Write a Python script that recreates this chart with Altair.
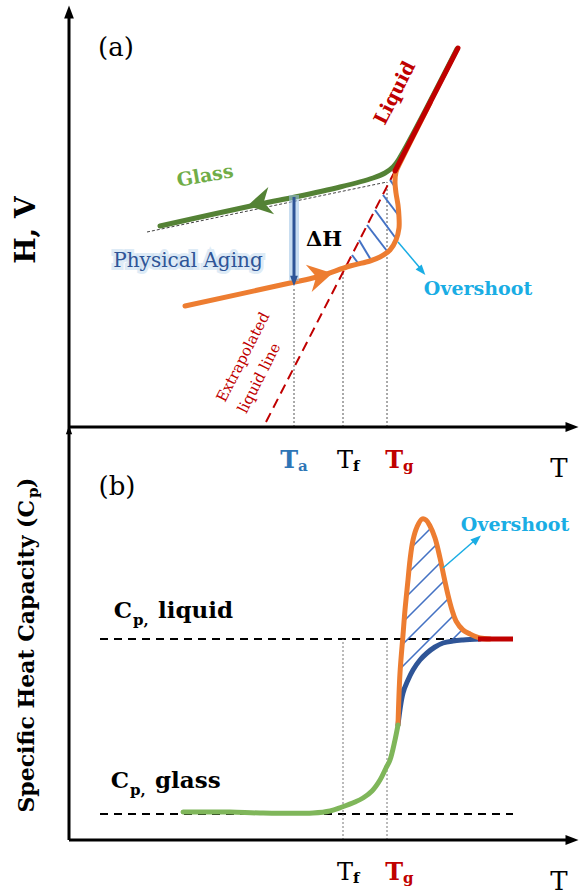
import altair as alt
import pandas as pd

SERIF = "DejaVu Serif"

# shared temperature axis and the two property axes
T_DOMAIN = [-69, 511]
H_DOMAIN = [0, 427]
CP_DOMAIN = [-55, 413]

GLASS_DARK = "#548235"
GLASS_LIGHT = "#70AD47"
ORANGE = "#ED7D31"
RED = "#C00000"
NAVY = "#2F5597"
HATCH = "#4472C4"
CYAN = "#1AADE4"
TA_BLUE = "#2E75B6"

# characteristic temperatures
T_a, T_f, T_g = 225, 274, 318

# ---------------- panel (a): H, V against T ----------------
# cooling: glass branch bending into the liquid line
glass_T = [91, 191, 226, 271, 304, 316, 324, 330, 388]
glass_H = [201, 223, 230, 240, 249, 254, 260, 268, 378]

# reheating of the aged glass, with the overshoot before rejoining the liquid
heat_T = [116, 221, 248, 281, 301, 311, 321, 327, 330, 330, 329, 327, 326, 327, 331, 361]
heat_H = [121, 144, 150, 161, 166, 170, 177, 187, 199, 210, 222, 234, 245, 255, 264, 324]

# equilibrium liquid and its extrapolation below Tg
liquid_T = [326, 389]
liquid_H = [256, 379]
extrap_T = [197, 326]
extrap_H = [5, 256]

# glass line extended up to Tg
glass_ext_T = [78, 318]
glass_ext_H = [195, 245]

# aged state and the enthalpy lost during aging
H_aged_top, H_aged_bottom = 230, 150

# top ends of the temperature guides
guide_H = {T_a: 140, T_f: 159, T_g: 245}

# hatching between the extrapolated liquid line and the reheating curve
hatchA_T1 = [283, 290, 298, 306, 314, 321]
hatchA_H1 = [172, 187, 202, 217, 232, 247]
hatchA_T2 = [289, 302, 318, 328, 330, 326]
hatchA_H2 = [164, 167, 176, 187, 211, 240]

# ---------------- panel (b): Cp against T ----------------
Cp_liquid, Cp_glass = 201, 26

cp_glass_T = [114, 161, 191, 244, 261, 273, 286, 294, 303, 311, 317, 321, 326, 329]
cp_glass_C = [28, 28, 27, 27, 29, 33, 38, 42, 49, 60, 72, 80, 100, 115]

cp_heat_T = [329, 331, 334, 336, 339, 341, 344, 348, 353, 357, 361, 366, 371, 375,
             379, 383, 387, 394, 401, 411, 421]
cp_heat_C = [115, 167, 205, 230, 260, 280, 300, 313, 321, 320, 314, 302, 282, 263,
             245, 230, 219, 210, 206, 202, 201]

cp_cool_T = [329, 334, 339, 344, 351, 358, 366, 374, 384, 394, 411]
cp_cool_C = [115, 147, 160, 170, 180, 187, 193, 197, 199, 200, 201]

cp_liq_T = [409, 444]

hatchB_T1 = [343, 340, 338, 335, 333, 331, 329, 381]
hatchB_C1 = [293, 268, 244, 219, 195, 171, 147, 198]
hatchB_T2 = [362, 368, 372, 376, 380, 385, 338, 393]
hatchB_C2 = [312, 296, 278, 260, 242, 225, 156, 210]

AXIS_END = 497
ARROW_TIP = "M1,0L-1,-0.75L-1,0.75Z"
BARBED = "M1,0L-0.9,-1.1L-0.3,0L-0.9,1.1Z"


def X():
    return alt.X("T:Q", scale=alt.Scale(domain=T_DOMAIN, nice=False, zero=False), axis=None)


def Y(dom):
    return alt.Y("Y:Q", scale=alt.Scale(domain=dom, nice=False, zero=False), axis=None)


def curve(T, Yv, dom, color, width, interp="catmull-rom", **kw):
    df = pd.DataFrame({"T": T, "Y": Yv, "i": list(range(len(T)))})
    return alt.Chart(df).mark_line(
        color=color, strokeWidth=width, interpolate=interp,
        strokeCap="round", strokeJoin="round", **kw
    ).encode(x=X(), y=Y(dom), order="i:Q")


def segs(T1, Y1, T2, Y2, dom, **kw):
    df = pd.DataFrame({"T": T1, "Y": Y1, "T2": T2, "Y2": Y2})
    return alt.Chart(df).mark_rule(**kw).encode(
        x=X(), y=Y(dom), x2=alt.X2("T2:Q"), y2=alt.Y2("Y2:Q"))


def head(T, Yv, dom, angle, size, shape, color):
    df = pd.DataFrame({"T": [T], "Y": [Yv]})
    return alt.Chart(df).mark_point(
        filled=True, opacity=1, strokeWidth=0, shape=shape, size=size,
        angle=angle, color=color
    ).encode(x=X(), y=Y(dom))


def label(T, Yv, s, dom, **kw):
    df = pd.DataFrame({"T": [T], "Y": [Yv], "s": [s]})
    opts = dict(font=SERIF)
    opts.update(kw)
    return alt.Chart(df).mark_text(**opts).encode(x=X(), y=Y(dom), text="s:N")


# ---------------- build panel (a) ----------------
A = H_DOMAIN
guides_a = segs([T_a, T_f, T_g], [0, 0, 0], [T_a, T_f, T_g],
                [guide_H[T_a], guide_H[T_f], guide_H[T_g]], A,
                color="#555555", strokeWidth=1, strokeDash=[2, 2])
glass_ext = segs([glass_ext_T[0]], [glass_ext_H[0]], [glass_ext_T[1]], [glass_ext_H[1]], A,
                 color="#444444", strokeWidth=1, strokeDash=[3, 2])
extrap = segs([extrap_T[0]], [extrap_H[0]], [extrap_T[1]], [extrap_H[1]], A,
              color=RED, strokeWidth=2, strokeDash=[10, 6])
hatch_a = segs(hatchA_T1, hatchA_H1, hatchA_T2, hatchA_H2, A, color=HATCH, strokeWidth=2)
heat = curve(heat_T, heat_H, A, ORANGE, 5)
glass = curve(glass_T, glass_H, A, GLASS_DARK, 5)
liquid = segs([liquid_T[0]], [liquid_H[0]], [liquid_T[1]], [liquid_H[1]], A,
              color=RED, strokeWidth=5, strokeCap="round")
dh_glow = segs([T_a], [H_aged_top + 2], [T_a], [H_aged_bottom - 4], A,
               color="#9DC3E6", strokeWidth=10, opacity=0.55)
dh_line = segs([T_a], [H_aged_top], [T_a], [H_aged_bottom], A, color=NAVY, strokeWidth=3)
cyan_a = segs([329], [185], [351], [159], A, color=CYAN, strokeWidth=1.5)
axes_a = alt.layer(
    segs([0], [0], [0], [411], A, color="black", strokeWidth=3),
    segs([0], [0], [AXIS_END], [0], A, color="black", strokeWidth=3),
    head(0, 415, A, 270, 170, ARROW_TIP, "black"),
    head(503, 0, A, 0, 170, ARROW_TIP, "black"),
)
heads_a = alt.layer(
    head(191, 224, A, 168, 650, BARBED, GLASS_DARK),
    head(251, 151, A, 348, 650, BARBED, ORANGE),
    head(T_a, 146, A, 90, 110, ARROW_TIP, NAVY),
    head(353, 156, A, 50, 110, ARROW_TIP, CYAN),
)
texts_a = alt.layer(
    label(47, 379, "(a)", A, fontSize=26, align="center", baseline="middle"),
    label(-42, 197, "H, V", A, fontSize=28, fontWeight="bold", angle=270,
          align="center", baseline="middle"),
    label(136, 251, "Glass", A, fontSize=19, fontWeight="bold", color=GLASS_LIGHT,
          angle=350, align="center", baseline="middle"),
    label(326, 334, "Liquid", A, fontSize=19, fontWeight="bold", color=RED,
          angle=297, align="center", baseline="middle"),
    label(174, 70, "Extrapolated", A, fontSize=15, color=RED, angle=297,
          align="center", baseline="middle"),
    label(190, 49, "liquid line", A, fontSize=15, color=RED, angle=297,
          align="center", baseline="middle"),
    label(119, 166, "Physical Aging", A, fontSize=20, color="#BDD7EE",
          stroke="#BDD7EE", strokeWidth=6, strokeOpacity=0.6, opacity=0.8,
          align="center", baseline="middle"),
    label(119, 166, "Physical Aging", A, fontSize=20, color=NAVY,
          align="center", baseline="middle"),
    label(255, 187, "ΔH", A, fontSize=21, fontWeight="bold", align="center",
          baseline="middle"),
    label(409, 138, "Overshoot", A, fontSize=19, fontWeight="bold", color=CYAN,
          align="center", baseline="middle"),
)
panel_a = alt.layer(
    guides_a, glass_ext, extrap, hatch_a, heat, glass, liquid,
    dh_glow, dh_line, cyan_a, axes_a, heads_a, texts_a,
).properties(width=580, height=427)

# ---------------- build panel (b) ----------------
B = CP_DOMAIN
refs_b = alt.layer(
    segs([31], [Cp_liquid], [cp_liq_T[0]], [Cp_liquid], B, color="black",
         strokeWidth=2, strokeDash=[8, 6]),
    segs([31], [Cp_glass], [cp_liq_T[1]], [Cp_glass], B, color="black",
         strokeWidth=2, strokeDash=[8, 6]),
)
guides_b = segs([T_f, T_g], [0, 0], [T_f, T_g], [Cp_liquid, Cp_liquid], B,
                color="#777777", strokeWidth=1, strokeDash=[2, 2])
hatch_b = segs(hatchB_T1, hatchB_C1, hatchB_T2, hatchB_C2, B, color=HATCH, strokeWidth=1.6)
cool_b = curve(cp_cool_T, cp_cool_C, B, NAVY, 5)
heat_b = curve(cp_heat_T, cp_heat_C, B, ORANGE, 5)
glass_b = curve(cp_glass_T, cp_glass_C, B, "#7FB65A", 5)
liq_b = segs([cp_liq_T[0]], [Cp_liquid], [cp_liq_T[1]], [Cp_liquid], B,
             color=RED, strokeWidth=5)
cyan_b = segs([374], [272], [405], [299], B, color=CYAN, strokeWidth=1.5)
axes_b = alt.layer(
    segs([0], [0], [0], [413], B, color="black", strokeWidth=3),
    segs([0], [0], [AXIS_END], [0], B, color="black", strokeWidth=3),
    head(0, 410, B, 270, 70, ARROW_TIP, "black"),
    head(503, 0, B, 0, 170, ARROW_TIP, "black"),
    head(408, 301, B, 319, 110, ARROW_TIP, CYAN),
)


def t_label(T, base, sub, dom, color, weight):
    return alt.layer(
        label(T, base, "T", dom, fontSize=24, color=color, fontWeight=weight,
              align="right", baseline="alphabetic"),
        label(T, base - 3, sub, dom, fontSize=15, color=color, fontWeight="bold",
              align="left", baseline="alphabetic"),
    )


def cp_label(T, base, word, dom):
    return alt.layer(
        label(T, base, "C", dom, fontSize=23, fontWeight="bold", align="right",
              baseline="alphabetic"),
        label(T + 1, base - 7, "p,", dom, fontSize=15, fontWeight="bold",
              align="left", baseline="alphabetic"),
        label(T + 26, base, word, dom, fontSize=23, fontWeight="bold",
              align="left", baseline="alphabetic"),
    )


texts_b = alt.layer(
    t_label(229, 372, "a", B, TA_BLUE, "bold"),
    t_label(284, 372, "f", B, "black", "normal"),
    t_label(334, 372, "g", B, RED, "bold"),
    label(490, 363, "T", B, fontSize=26, align="center", baseline="alphabetic"),
    label(48, 353, "(b)", B, fontSize=26, align="center", baseline="middle"),
    label(-42, 340, "Specific Heat Capacity (C", B, fontSize=22, fontWeight="bold",
          angle=270, align="right", baseline="middle"),
    label(-36, 342, "p", B, fontSize=15, fontWeight="bold", angle=270,
          align="left", baseline="middle"),
    label(-42, 352, ")", B, fontSize=22, fontWeight="bold", angle=270,
          align="left", baseline="middle"),
    cp_label(63, 222, "liquid", B),
    cp_label(60, 52, "glass", B),
    label(446, 315, "Overshoot", B, fontSize=19, fontWeight="bold", color=CYAN,
          align="center", baseline="middle"),
    t_label(284, -40, "f", B, "black", "normal"),
    t_label(334, -40, "g", B, RED, "bold"),
    label(490, -50, "T", B, fontSize=26, align="center", baseline="alphabetic"),
)
panel_b = alt.layer(
    refs_b, guides_b, hatch_b, cool_b, heat_b, glass_b, liq_b, cyan_b, axes_b, texts_b,
).properties(width=580, height=468)

chart = alt.vconcat(panel_a, panel_b, spacing=0, bounds="flush").properties(
    padding=0, background="white"
).configure_view(stroke=None)

chart.save("out.html", embed_options={"renderer": "svg", "actions": False})
